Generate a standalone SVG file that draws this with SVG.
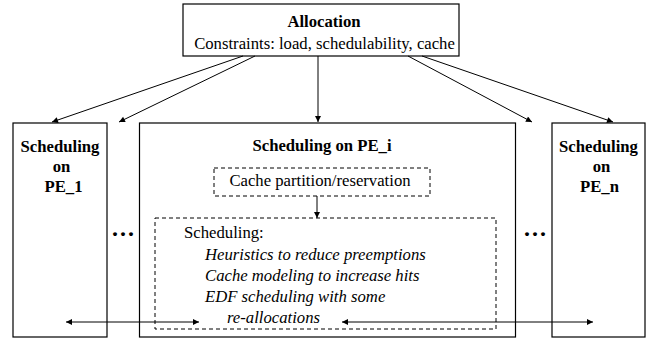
<svg xmlns="http://www.w3.org/2000/svg" width="653" height="344" viewBox="0 0 653 344">
<defs>
<style>
.box{fill:#fff;stroke:#000;stroke-width:1.2}
.dash{fill:none;stroke:#000;stroke-width:1;stroke-dasharray:4 3}
.t{font-family:"Liberation Serif","Times New Roman",serif;font-size:16.7px;fill:#000}
.b{font-weight:bold}
.i{font-style:italic}
.m{text-anchor:middle}
.d{font-size:24px;letter-spacing:2px}
.c{stroke:#000;stroke-width:1;fill:none}
</style>
<marker id="ah" viewBox="0 0 10 10" refX="10" refY="5" markerWidth="8" markerHeight="6" markerUnits="userSpaceOnUse" orient="auto-start-reverse">
<path d="M0,0 L10,5 L0,10 z" fill="#000"/>
</marker>
</defs>
<rect width="653" height="344" fill="#fff"/>
<g id="allocation">
<rect class="box" x="183" y="4" width="276" height="52"/>
<text class="t b m" x="324" y="27">Allocation</text>
<text class="t m" x="324.5" y="49">Constraints: load, schedulability, cache</text>
</g>
<g id="pe1">
<rect class="box" x="13" y="123" width="94" height="214"/>
<text class="t b m" x="60" y="152">Scheduling</text>
<text class="t b m" x="61.5" y="172">on</text>
<text class="t b m" x="63.5" y="192">PE_1</text>
</g>
<g id="pei">
<rect class="box" x="139.5" y="123" width="376" height="214"/>
<text class="t b m" x="322" y="151">Scheduling on PE_i</text>
</g>
<g id="cache">
<rect class="dash" x="214" y="168" width="216" height="28"/>
<text class="t m" x="320" y="186">Cache partition/reservation</text>
</g>
<g id="sched">
<rect class="dash" x="155" y="218" width="341" height="111"/>
<text class="t" x="184" y="238">Scheduling:</text>
<text class="t i" x="205" y="260">Heuristics to reduce preemptions</text>
<text class="t i" x="205" y="281">Cache modeling to increase hits</text>
<text class="t i" x="205" y="302">EDF scheduling with some</text>
<text class="t i" x="227" y="323">re-allocations</text>
</g>
<g id="pen">
<rect class="box" x="552" y="123" width="93" height="214"/>
<text class="t b m" x="598.5" y="152">Scheduling</text>
<text class="t b m" x="601.5" y="172">on</text>
<text class="t b m" x="599.5" y="192">PE_n</text>
</g>
<g id="dots">
<text class="t b d" x="112" y="236">...</text>
<text class="t b d" x="524" y="236">...</text>
</g>
<g id="connectors">
<line class="c" x1="243" y1="56" x2="52" y2="122" marker-end="url(#ah)"/>
<line class="c" x1="255" y1="56" x2="119" y2="122" marker-end="url(#ah)"/>
<line class="c" x1="318" y1="56" x2="318" y2="122" marker-end="url(#ah)"/>
<line class="c" x1="408" y1="56" x2="532" y2="122" marker-end="url(#ah)"/>
<line class="c" x1="422" y1="56" x2="613" y2="122" marker-end="url(#ah)"/>
<line class="c" x1="317" y1="196" x2="317" y2="218" marker-end="url(#ah)"/>
<line class="c" x1="66" y1="322" x2="199" y2="322" marker-start="url(#ah)" marker-end="url(#ah)"/>
<line class="c" x1="342" y1="322" x2="593" y2="322" marker-start="url(#ah)" marker-end="url(#ah)"/>
</g>
</svg>
